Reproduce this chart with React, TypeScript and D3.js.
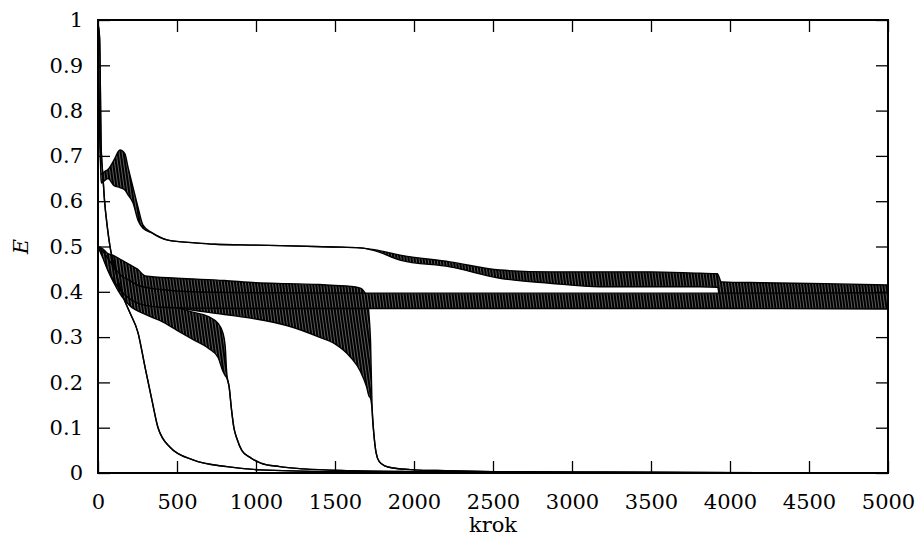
import React, { useEffect, useRef } from 'react';
import * as d3 from 'd3';

// step values and error envelopes (upper == lower where the line is smooth)
const aSteps = [0, 8, 20, 40, 63, 100, 139, 170, 190, 222, 253, 285, 342, 443, 614, 740, 1000, 1487, 1658, 1750, 1911, 2228, 2544, 2861, 3177, 3494, 3810, 3920, 3945, 4200, 4600, 5000];
const aUpper = [0.98, 0.8, 0.66, 0.665, 0.67, 0.69, 0.713, 0.705, 0.675, 0.63, 0.587, 0.547, 0.53, 0.514, 0.508, 0.505, 0.503, 0.499, 0.497, 0.493, 0.481, 0.466, 0.448, 0.444, 0.444, 0.444, 0.441, 0.44, 0.422, 0.42, 0.418, 0.415];
const aLower = [0.98, 0.8, 0.64, 0.645, 0.65, 0.635, 0.63, 0.625, 0.614, 0.596, 0.558, 0.54, 0.53, 0.514, 0.508, 0.505, 0.503, 0.499, 0.497, 0.491, 0.47, 0.455, 0.43, 0.419, 0.411, 0.411, 0.411, 0.41, 0.368, 0.366, 0.365, 0.365];

const bSteps = [0, 10, 20, 30, 40, 60, 76, 108, 158, 203, 253, 297, 342, 380, 456, 601, 816, 1025, 1500, 2500, 5000];
const bValues = [0.99, 0.96, 0.72, 0.66, 0.607, 0.54, 0.5, 0.45, 0.39, 0.353, 0.31, 0.235, 0.16, 0.1, 0.057, 0.029, 0.014, 0.007, 0.003, 0.001, 0.0003];

const cSteps = [0, 30, 60, 100, 150, 200, 300, 400, 500, 600, 700, 760, 790, 805, 815, 830, 845, 860, 880, 910, 960, 1030, 1150, 1300, 1600, 2000, 2500, 3500, 5000];
const cUpper = [0.5, 0.49, 0.47, 0.45, 0.42, 0.4, 0.38, 0.372, 0.365, 0.355, 0.345, 0.33, 0.31, 0.28, 0.22, 0.19, 0.14, 0.1, 0.075, 0.05, 0.035, 0.022, 0.014, 0.009, 0.005, 0.003, 0.002, 0.001, 0.0005];
const cLower = [0.5, 0.48, 0.45, 0.42, 0.39, 0.37, 0.35, 0.335, 0.315, 0.295, 0.275, 0.255, 0.225, 0.215, 0.21, 0.19, 0.14, 0.1, 0.075, 0.05, 0.035, 0.022, 0.014, 0.009, 0.005, 0.003, 0.002, 0.001, 0.0005];

const dSteps = [0, 30, 60, 100, 150, 200, 250, 300, 500, 800, 1000, 1200, 1400, 1500, 1600, 1660, 1700, 1715, 1725, 1735, 1745, 1760, 1780, 1820, 1870, 2000, 2200, 2500, 3000, 3500, 4500, 5000];
const dUpper = [0.5, 0.495, 0.485, 0.48, 0.47, 0.46, 0.45, 0.435, 0.43, 0.425, 0.42, 0.418, 0.416, 0.414, 0.412, 0.408, 0.39, 0.35, 0.29, 0.14, 0.09, 0.045, 0.025, 0.015, 0.011, 0.007, 0.005, 0.003, 0.002, 0.001, 0.0005, 0.0003];
const dLower = [0.5, 0.485, 0.465, 0.44, 0.415, 0.4, 0.39, 0.38, 0.365, 0.35, 0.34, 0.325, 0.3, 0.285, 0.255, 0.225, 0.19, 0.17, 0.165, 0.14, 0.09, 0.045, 0.025, 0.015, 0.011, 0.007, 0.005, 0.003, 0.002, 0.001, 0.0005, 0.0003];

const eSteps = [0, 30, 60, 100, 150, 200, 250, 300, 400, 600, 1000, 2000, 3000, 4000, 5000];
const eUpper = [0.5, 0.49, 0.475, 0.455, 0.435, 0.425, 0.415, 0.41, 0.405, 0.4, 0.398, 0.397, 0.397, 0.397, 0.398];
const eLower = [0.5, 0.475, 0.45, 0.425, 0.4, 0.385, 0.375, 0.37, 0.366, 0.364, 0.363, 0.363, 0.363, 0.363, 0.362];

const xTicks = [0, 500, 1000, 1500, 2000, 2500, 3000, 3500, 4000, 4500, 5000];
const yTicks = [0, 0.1, 0.2, 0.3, 0.4, 0.5, 0.6, 0.7, 0.8, 0.9, 1];

const W = 916;
const H = 537;
const m = { top: 20, right: 28, bottom: 64, left: 98 };
const FONT = 'DejaVu Serif';
const FS = 21;

export default function App() {
  const ref = useRef<SVGSVGElement>(null);

  useEffect(() => {
    const svg = d3.select(ref.current);
    svg.selectAll('*').remove();

    const iw = W - m.left - m.right;
    const ih = H - m.top - m.bottom;
    const x = d3.scaleLinear().domain([0, 5000]).range([0, iw]);
    const y = d3.scaleLinear().domain([0, 1]).range([ih, 0]);

    const defs = svg.append('defs');
    const pat = defs.append('pattern')
      .attr('id', 'zig')
      .attr('patternUnits', 'userSpaceOnUse')
      .attr('width', 3)
      .attr('height', 6)
      .attr('patternTransform', 'skewX(8)');
    pat.append('rect').attr('width', 3).attr('height', 6).attr('fill', '#666');
    pat.append('rect').attr('width', 2.1).attr('height', 6).attr('fill', '#000');
    defs.append('clipPath').attr('id', 'plotclip')
      .append('rect').attr('width', iw).attr('height', ih);

    const g = svg.append('g').attr('transform', `translate(${m.left},${m.top})`);
    const plot = g.append('g').attr('clip-path', 'url(#plotclip)');

    const bands = [
      { s: aSteps, hi: aUpper, lo: aLower },
      { s: cSteps, hi: cUpper, lo: cLower },
      { s: dSteps, hi: dUpper, lo: dLower },
      { s: eSteps, hi: eUpper, lo: eLower },
      { s: bSteps, hi: bValues, lo: bValues },
    ];

    bands.forEach(b => {
      const pts = b.s.map((s, i) => ({ s, hi: b.hi[i], lo: b.lo[i] }));
      const area = d3.area<any>()
        .x(d => x(d.s))
        .y0(d => y(d.lo))
        .y1(d => y(d.hi))
        .curve(d3.curveMonotoneX);
      plot.append('path').datum(pts).attr('d', area).attr('fill', 'url(#zig)');
      const upper = d3.line<any>().x(d => x(d.s)).y(d => y(d.hi)).curve(d3.curveMonotoneX);
      const lower = d3.line<any>().x(d => x(d.s)).y(d => y(d.lo)).curve(d3.curveMonotoneX);
      [upper, lower].forEach(l => {
        plot.append('path').datum(pts).attr('d', l)
          .attr('fill', 'none').attr('stroke', '#000').attr('stroke-width', 1.4);
      });
    });

    const styleAxis = (sel: any) => {
      sel.attr('font-family', FONT).attr('font-size', FS);
      sel.select('.domain').remove();
      sel.selectAll('line').attr('stroke', '#000').attr('stroke-width', 1.3);
      sel.selectAll('text').attr('fill', '#000');
    };

    g.append('g').attr('transform', `translate(0,${ih})`)
      .call(d3.axisBottom(x).tickValues(xTicks).tickSize(-12).tickPadding(21).tickFormat(d3.format('d')))
      .call(styleAxis);
    g.append('g')
      .call(d3.axisTop(x).tickValues(xTicks).tickSize(-12).tickFormat(() => ''))
      .call(styleAxis);
    g.append('g')
      .call(d3.axisLeft(y).tickValues(yTicks).tickSize(-12).tickPadding(15).tickFormat(d => String(+d)))
      .call(styleAxis);
    g.append('g').attr('transform', `translate(${iw},0)`)
      .call(d3.axisRight(y).tickValues(yTicks).tickSize(-12).tickFormat(() => ''))
      .call(styleAxis);

    g.append('rect').attr('width', iw).attr('height', ih)
      .attr('fill', 'none').attr('stroke', '#000').attr('stroke-width', 2);

    svg.append('text')
      .attr('x', m.left + iw / 2).attr('y', 532)
      .attr('text-anchor', 'middle')
      .attr('font-family', FONT).attr('font-size', FS)
      .text('krok');
    svg.append('text')
      .attr('transform', `translate(28,${m.top + ih / 2}) rotate(-90)`)
      .attr('text-anchor', 'middle')
      .attr('font-family', FONT).attr('font-size', FS).attr('font-style', 'italic')
      .text('E');
  }, []);

  return (
    <svg ref={ref} width={W} height={H} style={{ position: 'absolute', left: 0, top: 0, background: '#fff' }} />
  );
}
